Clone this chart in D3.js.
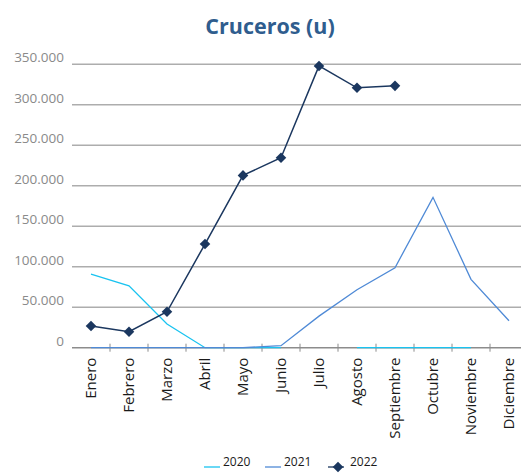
<!DOCTYPE html>
<html>
<head>
<meta charset="utf-8">
<script src="https://cdn.jsdelivr.net/npm/d3@7"></script>
<style>
body { margin: 0; background: #fff; }
svg { display: block; font-family: "Open Sans", "Liberation Sans", sans-serif; }
</style>
</head>
<body>
<div id="chart"></div>
<script>
var months = ["Enero","Febrero","Marzo","Abril","Mayo","Junio","Julio","Agosto","Septiembre","Octubre","Noviembre","Diciembre"];
var yTicks = [0,50000,100000,150000,200000,250000,300000,350000];
var seriesNames = ["2020","2021","2022"];
var v2020 = [91000,76500,29300,0,0,0,null,0,0,0,0,null];
var v2021 = [0,0,0,0,0,2500,39000,71600,98800,185700,84400,33300];
var v2022 = [26800,19800,44400,128000,212800,234600,348000,321000,323400,null,null,null];
var colors = ["#19c3f0","#4f8ad6","#1b375f"];

var width = 521, height = 473;

var svg = d3.select("#chart").append("svg")
  .attr("width", width)
  .attr("height", height);

var x = d3.scaleBand()
  .domain(months)
  .range([72, 528]);

var y = d3.scaleLinear()
  .domain([0, 350000])
  .range([347.7, 64.3]);

var fmt = function(d) { return d3.format(",")(d).replace(/,/g, "."); };

// title
svg.append("text")
  .attr("x", 270)
  .attr("y", 34)
  .attr("text-anchor", "middle")
  .style("font-size", "21.5px")
  .style("font-weight", "bold")
  .style("fill", "#2f5d8e")
  .text("Cruceros (u)");

// gridlines
svg.append("g")
  .selectAll("line")
  .data(yTicks.filter(function(d) { return d > 0; }))
  .enter().append("line")
    .attr("x1", 72)
    .attr("x2", 528)
    .attr("y1", function(d) { return y(d); })
    .attr("y2", function(d) { return y(d); })
    .style("stroke", "#adadad")
    .style("stroke-width", 1.5);

// y axis labels
svg.append("g")
  .selectAll("text")
  .data(yTicks)
  .enter().append("text")
    .attr("x", 64)
    .attr("y", function(d) { return y(d) - 2; })
    .attr("text-anchor", "end")
    .style("font-size", "13.5px")
    .style("fill", "#8a8a8a")
    .text(function(d) { return fmt(d); });

// x axis
var xAxis = svg.append("g")
  .attr("transform", "translate(0," + y(0) + ")");
xAxis.append("line")
  .attr("x1", 72).attr("x2", 528)
  .style("stroke", "#8c8c8c")
  .style("stroke-width", 1.5);
xAxis.selectAll("line.tick")
  .data(months)
  .enter().append("line")
    .attr("class", "tick")
    .attr("x1", function(d) { return x(d) + x.bandwidth(); })
    .attr("x2", function(d) { return x(d) + x.bandwidth(); })
    .attr("y1", -4).attr("y2", 4)
    .style("stroke", "#8c8c8c")
    .style("stroke-width", 1);
xAxis.selectAll("text")
  .data(months)
  .enter().append("text")
    .attr("transform", function(d) {
      return "translate(" + (x(d) + x.bandwidth() / 2 + 5) + ",10) rotate(-90)";
    })
    .attr("text-anchor", "end")
    .style("font-size", "15px")
    .style("fill", "#1a1a1a")
    .text(function(d) { return d; });

var line = d3.line()
  .defined(function(d) { return d != null; })
  .x(function(d, i) { return x(months[i]) + x.bandwidth() / 2; })
  .y(function(d) { return y(d); });

[v2020, v2021, v2022].forEach(function(vals, k) {
  svg.append("path")
    .datum(vals)
    .attr("d", line)
    .style("fill", "none")
    .style("stroke", colors[k])
    .style("stroke-width", k == 2 ? 1.5 : 1.3);
});

// square diamond marker
var marker = d3.symbol().type(d3.symbolSquare).size(56);

svg.append("g")
  .selectAll("path")
  .data(v2022.map(function(d, i) { return {v: d, m: months[i]}; }).filter(function(d) { return d.v != null; }))
  .enter().append("path")
    .attr("d", marker)
    .attr("transform", function(d) {
      return "translate(" + (x(d.m) + x.bandwidth() / 2) + "," + y(d.v) + ") rotate(45)";
    })
    .style("fill", colors[2]);

// legend
var legendX = [204, 265, 328];
var legend = svg.append("g");
seriesNames.forEach(function(name, k) {
  var g = legend.append("g").attr("transform", "translate(" + legendX[k] + ",467)");
  g.append("line")
    .attr("x1", 0).attr("x2", 16)
    .attr("y1", 0).attr("y2", 0)
    .style("stroke", colors[k])
    .style("stroke-width", 1.3);
  if (k == 2) {
    g.append("path")
      .attr("d", marker)
      .attr("transform", "translate(10,0) rotate(45)")
      .style("fill", colors[2]);
  }
  g.append("text")
    .attr("x", k == 2 ? 22 : 19)
    .attr("y", -1)
    .style("font-size", "12px")
    .style("fill", "#1a1a1a")
    .text(name);
});
</script>
</body>
</html>
